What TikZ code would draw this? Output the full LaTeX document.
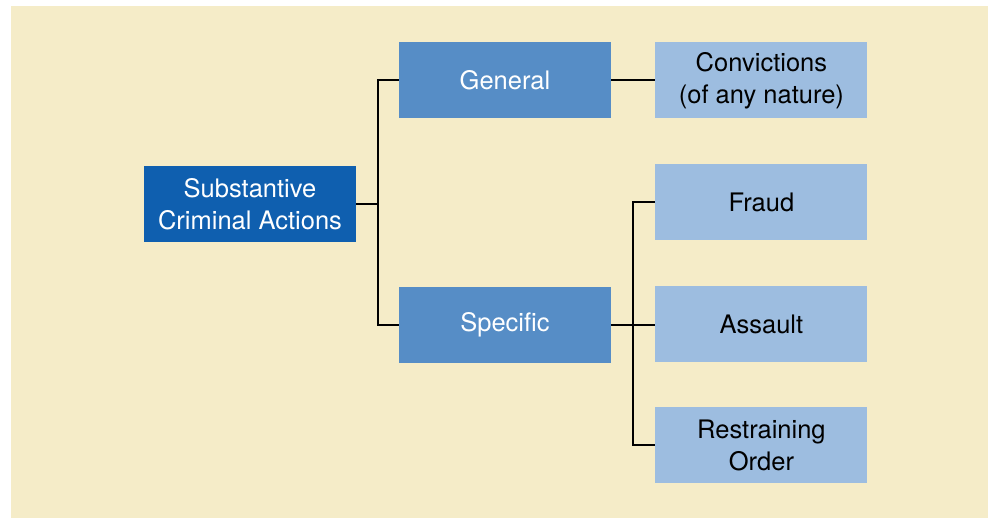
\documentclass[tikz,border=0pt]{standalone}
\usepackage{fontspec}
\setmainfont{TeX Gyre Heros}
\usetikzlibrary{positioning}
\definecolor{paper}{RGB}{245,236,200}
\definecolor{darkblue}{RGB}{15,95,175}
\definecolor{midblue}{RGB}{86,141,198}
\definecolor{paleblue}{RGB}{157,189,224}

\begin{document}
\begin{tikzpicture}[x=1pt, y=-1pt,
        box/.style={rectangle, minimum width=212pt, minimum height=76pt, align=center, inner sep=0pt,
                    font=\fontsize{25.5}{32}\selectfont},
        rootbox/.style={box, fill=darkblue, text=white},
        midbox/.style={box, fill=midblue, text=white},
        leafbox/.style={box, fill=paleblue, text=black},
        link/.style={draw=black, line width=2pt}]
        \useasboundingbox (0,0) rectangle (988,518);
        \fill[paper] (11,6) rectangle (988,518);
        \node[rootbox] (root) at (250,204) {Substantive\\Criminal Actions};
        \node[midbox] (general) at (505,80.5) {General};
        \node[midbox] (specific) at (505,325) {Specific};
        \node[leafbox] (convictions) [right=44pt of general] {Convictions\\(of any nature)};
        \node[leafbox] (fraud) [below=45.5pt of convictions] {Fraud};
        \node[leafbox] (assault) [below=45.5pt of fraud] {Assault};
        \node[leafbox] (order) [below=44.5pt of assault] {Restraining\\Order};
        \draw[link] (root.east) -- ++(22,0) |- (general.west);
        \draw[link] (root.east) -- ++(22,0) |- (specific.west);
        \draw[link] (general.east) -- (convictions.west);
        \draw[link] (specific.east) -- (specific.east -| assault.west);
        \draw[link] (fraud.west) -- ++(-22,0) |- (order.west);
\end{tikzpicture}
\end{document}
